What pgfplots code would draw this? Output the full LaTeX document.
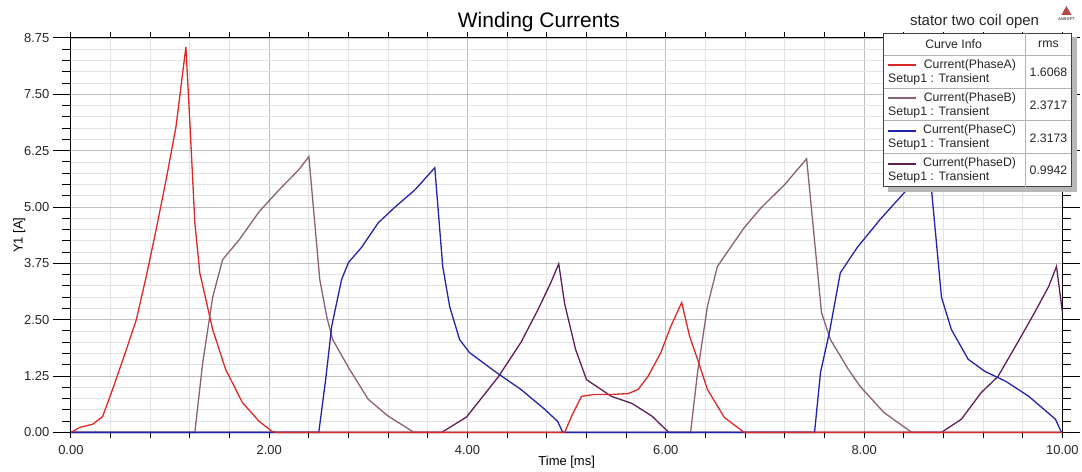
\documentclass[border=0pt]{standalone}
\usepackage{fontspec}
\setmainfont{Liberation Sans}
\usepackage{pgfplots}
\pgfplotsset{compat=1.18}
\definecolor{phA}{RGB}{220,40,40}
\definecolor{phB}{RGB}{140,95,120}
\definecolor{phC}{RGB}{35,35,170}
\definecolor{phD}{RGB}{95,30,90}
\begin{document}
\begin{tikzpicture}
\begin{axis}[
  at={(0pt,0pt)}, anchor=south west,
  scale only axis, width=993pt, height=395pt,
  xmin=0, xmax=10, ymin=0, ymax=8.75,
  xtick={0,2,4,6,8,10}, minor x tick num=4,
  ytick={0,1.25,2.5,3.75,5,6.25,7.5,8.75}, minor y tick num=4,
  grid=both,
  major grid style={draw=black!25, line width=0.8pt},
  minor grid style={draw=black!11, line width=0.8pt},
  tick align=outside,
  major tick length=18pt, minor tick length=9pt,
  x tick style={/pgfplots/major tick length=6pt, /pgfplots/minor tick length=6pt, black, line width=0.9pt},
  y tick style={black, line width=0.9pt},
  axis line style={black, line width=1.1pt},
  /pgf/number format/.cd, fixed, fixed zerofill, precision=2, assume math mode=true,
  /pgfplots/.cd,
  ticklabel style={font=\fontsize{13}{15}\selectfont, text=black!85},
  xticklabel style={yshift=8pt},
  title={Winding Currents},
  title style={at={(axis description cs:0.472,1.026)}, anchor=center, font=\fontsize{21}{24}\selectfont},
  xlabel={Time [ms]},
  xlabel style={at={(axis description cs:0.5,-0.076)}, anchor=center, font=\fontsize{13}{15}\selectfont},
  ylabel={Y1 [A]},
  ylabel style={at={(axis description cs:-0.052,0.5)}, anchor=center, font=\fontsize{13}{15}\selectfont},
  clip=false,
  every axis plot/.append style={line width=1.3pt, mark=none},
]
% Phase D
\addplot[phD] coordinates {
(0,0) (3.74,0) (3.99,0.34) (4.31,1.23) (4.54,2.0) (4.71,2.72) (4.84,3.32) (4.92,3.74)
(4.98,2.85) (5.09,1.84) (5.20,1.17) (5.45,0.80) (5.66,0.64) (5.86,0.36) (6.03,0)
(8.78,0) (8.98,0.29) (9.18,0.88) (9.35,1.24) (9.55,2.0) (9.72,2.66) (9.86,3.23) (9.94,3.68) (10,2.66)
};
% Phase B
\addplot[phB] coordinates {
(0,0) (1.25,0) (1.33,1.55) (1.43,3.0) (1.53,3.83) (1.70,4.28) (1.90,4.9) (2.10,5.38) (2.30,5.83) (2.40,6.12)
(2.51,3.39) (2.58,2.57) (2.64,2.06) (2.81,1.40) (3.0,0.73) (3.2,0.36) (3.46,0)
(6.25,0) (6.32,1.33) (6.42,2.8) (6.52,3.68) (6.62,4.0) (6.79,4.54) (6.96,4.98) (7.2,5.5) (7.42,6.07)
(7.57,2.66) (7.66,2.06) (7.84,1.40) (7.96,1.02) (8.2,0.44) (8.48,0) (10,0)
};
% Phase C
\addplot[phC] coordinates {
(0,0) (2.5,0) (2.57,1.18) (2.63,2.35) (2.73,3.39) (2.80,3.77) (2.93,4.1) (3.1,4.65) (3.27,5.0) (3.47,5.38) (3.67,5.87)
(3.75,3.68) (3.82,2.79) (3.92,2.06) (4.02,1.77) (4.29,1.33) (4.54,0.95) (4.78,0.51) (4.91,0.24) (4.96,0)
(7.5,0) (7.56,1.33) (7.65,2.22) (7.76,3.54) (7.93,4.1) (8.16,4.72) (8.43,5.38) (8.66,5.85)
(8.78,3.0) (8.88,2.28) (9.05,1.62) (9.22,1.35) (9.43,1.13) (9.66,0.80) (9.93,0.29) (9.99,0) (10,0)
};
% Phase A
\addplot[phA] coordinates {
(0,0) (0.09,0.11) (0.22,0.18) (0.32,0.35) (0.42,0.95) (0.56,1.84) (0.66,2.5) (0.76,3.46) (0.86,4.5)
(0.96,5.6) (1.06,6.78) (1.16,8.55) (1.20,6.87) (1.25,4.65) (1.30,3.54) (1.43,2.28) (1.56,1.40)
(1.73,0.66) (1.90,0.24) (2.03,0.02) (2.07,0)
(4.98,0) (5.05,0.36) (5.15,0.8) (5.28,0.84) (5.45,0.84) (5.62,0.86) (5.72,0.95) (5.82,1.24) (5.95,1.77)
(6.05,2.35) (6.16,2.88) (6.24,2.13) (6.32,1.62) (6.42,0.95) (6.59,0.33) (6.79,0) (10,0)
};
\end{axis}
% legend and header, in pixel coordinates of the reference
\begin{scope}[shift={(-71pt,433pt)}, x=1pt, y=-1pt]
  \node[font=\fontsize{15}{17}\selectfont, text=black!85] at (976,22) {stator two coil open};
  \fill[red!45!gray] (1063,15) -- (1068,6) -- (1073,15) -- cycle;
  \node[font=\fontsize{4}{5}\selectfont\bfseries, text=black!70] at (1068,19) {ANSOFT};
  \fill[black!28] (889,37) rectangle (1079,192);
  \filldraw[fill=white, draw=black!75, line width=0.8pt] (885,33) rectangle (1073,187);
  \draw[black!30, line width=0.7pt] (1027,33) -- (1027,187);
  \foreach \yy in {55,88,121,154} \draw[black!30, line width=0.7pt] (885,\yy) -- (1073,\yy);
  \node[font=\fontsize{12.3}{14}\selectfont, text=black!85] at (955,44) {Curve Info};
  \node[font=\fontsize{12.3}{14}\selectfont, text=black!85] at (1050,44) {rms};
  \foreach \i/\col/\nm/\val in {0/phA/A/1.6068, 1/phB/B/2.3717, 2/phC/C/2.3173, 3/phD/D/0.9942}{
    \draw[\col, line width=1.5pt] (889,{65+33*\i}) -- (917,{65+33*\i});
    \node[font=\fontsize{12.3}{14}\selectfont, text=black!85, anchor=east] at (1021,{65+33*\i}) {Current(Phase\nm)};
    \node[font=\fontsize{12.3}{14}\selectfont, text=black!85, anchor=west] at (886,{79+33*\i}) {Setup1 : Transient};
    \node[font=\fontsize{12.3}{14}\selectfont, text=black!85] at (1050,{72+33*\i}) {\val};
  }
\end{scope}
\path[use as bounding box] (-71pt,-39pt) rectangle (1011pt,433pt);
\end{tikzpicture}
\end{document}
